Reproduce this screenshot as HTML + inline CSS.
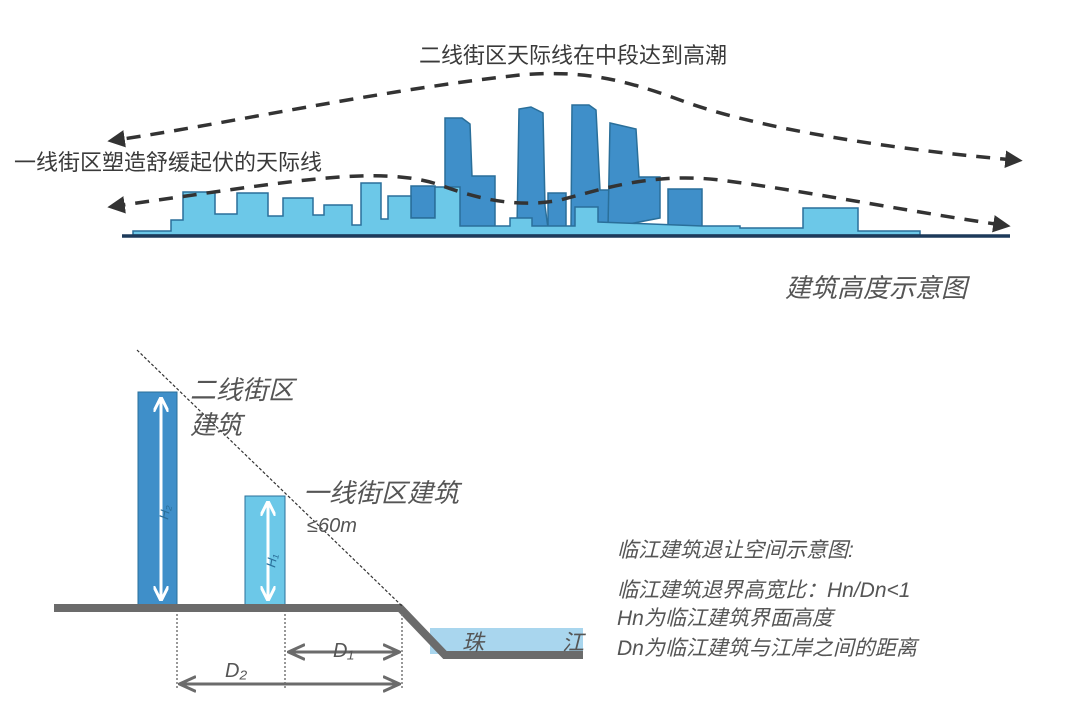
<!DOCTYPE html>
<html><head><meta charset="utf-8"><style>
html,body{margin:0;padding:0;background:#fff;}
svg{display:block;}
text{font-family:"Liberation Sans","Noto Sans CJK SC",sans-serif;fill:#3a3a3a;}
.it{font-style:italic;fill:#555;}
</style></head><body>
<svg width="1080" height="702" viewBox="0 0 1080 702" xmlns="http://www.w3.org/2000/svg">
<defs>
<marker id="ah" markerWidth="5" markerHeight="5" refX="2.5" refY="2.5" orient="auto-start-reverse" markerUnits="strokeWidth"><path d="M0,0 L5,2.5 L0,5 z" fill="#333"/></marker>
<marker id="wa" markerWidth="5" markerHeight="5" refX="4" refY="2.5" orient="auto" markerUnits="strokeWidth"><path d="M0,0 L5,2.5 L0,5" fill="none" stroke="#fff" stroke-width="1"/></marker>
<marker id="ga" markerWidth="6" markerHeight="6" refX="5" refY="3" orient="auto" markerUnits="strokeWidth"><path d="M0,0.5 L5.5,3 L0,5.5" fill="none" stroke="#6b6b6b" stroke-width="1"/></marker>
</defs>

<text x="573" y="63" font-size="22" text-anchor="middle">二线街区天际线在中段达到高潮</text>
<text x="14" y="170" font-size="22">一线街区塑造舒缓起伏的天际线</text>

<!-- dark towers -->
<g fill="#3f8fc9" stroke="#2a6f9a" stroke-width="1.5">
<path d="M445,228 L445,118 L462,118 L470,124 L472,176 L495,176 L495,228 Z"/>
<path d="M517,228 L519,109 L531,107 L543,113 L545,206 L548,228 Z"/>
<path d="M571,228 L572,105 L589,105 L596,110 L600,190 L615,190 L615,228 Z"/>
<path d="M608,228 L610,123 L636,129 L639,177 L660,177 L660,218 Z"/>
<path d="M668,228 L668,189 L702,189 L702,228 Z"/>
<path d="M411,218 L411,186 L435,186 L435,218 Z"/>
<path d="M548,228 L548,193 L566,193 L566,228 Z"/>
</g>
<!-- light skyline -->
<path fill="#6cc8e8" stroke="#2a6f9a" stroke-width="1.5" d="M133,235 L133,231 L171,231 L171,220 L183,220 L183,192 L215,192 L215,214 L237,214 L237,193 L268,193 L268,216 L283,216 L283,198 L313,198 L313,215 L324,215 L324,205 L352,205 L352,225 L361,225 L361,183 L381,183 L381,219 L388,219 L388,196 L411,196 L411,218 L435,218 L435,187 L460,187 L460,226 L510,226 L510,218 L532,218 L532,226 L575,226 L575,207 L598,207 L598,222 L702,226 L740,226 L740,228 L803,228 L803,208 L858,208 L858,231 L920,231 L920,235 Z"/>
<line x1="122" y1="236" x2="1010" y2="236" stroke="#1d3a5a" stroke-width="3.5"/>

<!-- dashed curves -->
<path d="M1014,160 C900,150 760,130 680,100 C620,78 580,70 520,75 C380,90 220,125 116,140" fill="none" stroke="#333" stroke-width="3.5" stroke-dasharray="14,10" marker-end="url(#ah)" marker-start="url(#ah)"/>
<path d="M1002,225 C900,210 800,190 720,180 C650,172 600,190 560,200 C520,208 480,200 440,185 C380,165 300,180 116,206" fill="none" stroke="#333" stroke-width="3.5" stroke-dasharray="14,10" marker-end="url(#ah)" marker-start="url(#ah)"/>

<text x="785" y="297" font-size="26" class="it">建筑高度示意图</text>

<!-- bottom diagram -->
<rect x="430" y="628" width="153" height="26" fill="#a9d6ee"/>
<rect x="138" y="392" width="39" height="216" fill="#3f8fc9" stroke="#2a6f9a" stroke-width="1"/>
<rect x="245" y="496" width="40" height="112" fill="#6cc8e8" stroke="#2a6f9a" stroke-width="1"/>
<line x1="161" y1="598" x2="161" y2="400" stroke="#fff" stroke-width="3" marker-end="url(#wa)"/>
<line x1="161" y1="400" x2="161" y2="598" stroke="#fff" stroke-width="3" marker-end="url(#wa)"/>
<line x1="268" y1="598" x2="268" y2="504" stroke="#fff" stroke-width="3" marker-end="url(#wa)"/>
<line x1="268" y1="504" x2="268" y2="598" stroke="#fff" stroke-width="3" marker-end="url(#wa)"/>
<text x="0" y="0" font-size="13" class="it" transform="translate(168,520) rotate(-80)" style="fill:#2a6f9a">H₂</text>
<text x="0" y="0" font-size="13" class="it" transform="translate(275,568) rotate(-80)" style="fill:#2a6f9a">H₁</text>
<polyline points="54,608 400,608 445,655 583,655" fill="none" stroke="#6b6b6b" stroke-width="8"/>
<line x1="137" y1="350" x2="402" y2="606" stroke="#333" stroke-width="1.2" stroke-dasharray="3,2"/>
<g stroke="#777" stroke-width="1.5" stroke-dasharray="2,2">
<line x1="177" y1="614" x2="177" y2="690"/><line x1="285" y1="614" x2="285" y2="690"/><line x1="402" y1="614" x2="402" y2="690"/>
</g>
<line x1="290" y1="652" x2="398" y2="652" stroke="#6b6b6b" stroke-width="3" marker-end="url(#ga)"/>
<line x1="398" y1="652" x2="290" y2="652" stroke="#6b6b6b" stroke-width="3" marker-end="url(#ga)"/>
<line x1="181" y1="684" x2="398" y2="684" stroke="#6b6b6b" stroke-width="3" marker-end="url(#ga)"/>
<line x1="398" y1="684" x2="181" y2="684" stroke="#6b6b6b" stroke-width="3" marker-end="url(#ga)"/>
<text x="333" y="657" font-size="20" class="it">D₁</text>
<text x="225" y="677" font-size="20" class="it">D₂</text>
<text x="462" y="650" font-size="22" class="it">珠</text>
<text x="562" y="650" font-size="22" class="it">江</text>

<text x="190" y="399" font-size="26" class="it">二线街区</text>
<text x="190" y="434" font-size="26" class="it">建筑</text>
<text x="303" y="502" font-size="26" class="it">一线街区建筑</text>
<text x="307" y="532" font-size="20" class="it">≤60m</text>

<text x="617" y="557" font-size="21" class="it">临江建筑退让空间示意图:</text>
<text x="617" y="597" font-size="21" class="it">临江建筑退界高宽比：Hn/Dn&lt;1</text>
<text x="617" y="625" font-size="21" class="it">Hn为临江建筑界面高度</text>
<text x="617" y="655" font-size="21" class="it">Dn为临江建筑与江岸之间的距离</text>
</svg>
</body></html>
